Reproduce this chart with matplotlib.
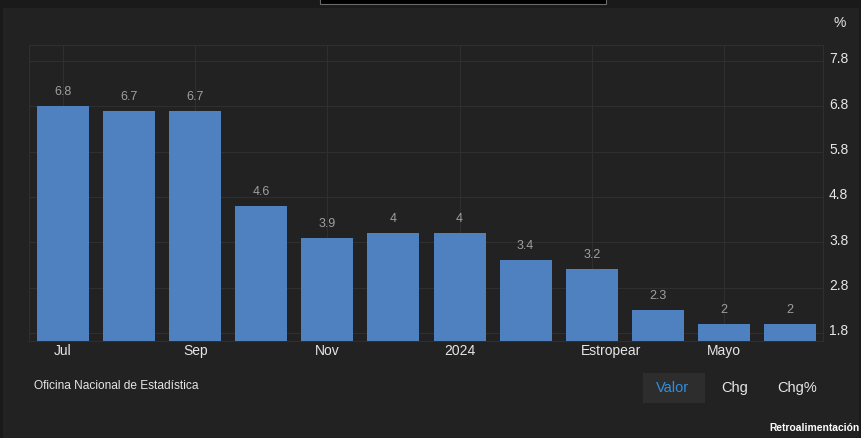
import matplotlib
matplotlib.use('Agg')
import matplotlib.pyplot as plt
import matplotlib.transforms as mtransforms
from matplotlib.patches import Rectangle

plt.rcParams['font.family'] = ['Liberation Sans', 'DejaVu Sans']

# data
months = ['Jul', 'Ago', 'Sep', 'Oct', 'Nov', 'Dic', 'Ene', 'Feb', 'Mar', 'Abr', 'May', 'Jun']
values = [6.8, 6.7, 6.7, 4.6, 3.9, 4, 4, 3.4, 3.2, 2.3, 2, 2]
tick_pos = [0, 2, 4, 6, 8, 10]
tick_labels = ['Jul', 'Sep', 'Nov', '2024', 'Estropear', 'Mayo']
y_ticks = [1.8, 2.8, 3.8, 4.8, 5.8, 6.8, 7.8]

W, H = 862, 438
fig = plt.figure(figsize=(W / 100, H / 100), dpi=100)
fig.patch.set_facecolor('#1a1a1a')

# panel background (behind the axes)
fig.patches.append(Rectangle((3 / W, 0), (859 - 3) / W, (H - 8) / H,
                             transform=fig.transFigure, facecolor='#222222',
                             edgecolor='none', zorder=-5))
# small dark box at top centre
fig.patches.append(Rectangle((320 / W, (H - 4) / H), (606 - 320) / W, 6 / H,
                             transform=fig.transFigure, facecolor='#000000',
                             edgecolor='#6a6a6a', linewidth=0.8, zorder=1))

ax = fig.add_axes([29 / W, (H - 341) / H, (823 - 29) / W, (341 - 45) / H])
ax.set_facecolor('#222222')

x = list(range(len(values)))
ax.bar(x, values, width=0.787, color='#4f81c1', zorder=3)

for xi, v in zip(x, values):
    ax.annotate('{:g}'.format(v), (xi, v), xytext=(0, 10), textcoords='offset points',
                ha='center', va='center', fontsize=9, color='#a0a0a0')

ax.set_xlim(-0.515, 11.5)
ax.set_ylim(1.62, 8.15)

ax.set_xticks(tick_pos)
ax.set_xticklabels(tick_labels)
ax.set_yticks(y_ticks)
ax.set_yticklabels(['{:.1f}'.format(t) for t in y_ticks])
ax.yaxis.tick_right()
ax.tick_params(axis='both', length=0, colors='#e6e6e6', labelsize=10)
ax.tick_params(axis='y', pad=4.3)
ax.tick_params(axis='x', pad=2)

# y labels sit a little above the gridline
up = mtransforms.ScaledTranslation(0, 3 / 100, fig.dpi_scale_trans)
for lab in ax.get_yticklabels():
    lab.set_transform(lab.get_transform() + up)
# "Estropear" label is shifted right in the original
right = mtransforms.ScaledTranslation(19 / 100, 0, fig.dpi_scale_trans)
lab = ax.get_xticklabels()[4]
lab.set_transform(lab.get_transform() + right)

ax.grid(True, color='#2f2f2f', linewidth=0.8, zorder=0)
for s in ax.spines.values():
    s.set_color('#2f2f2f')
    s.set_linewidth(0.8)

fig.text(840 / W, 1 - 23 / H, '%', color='#e6e6e6', fontsize=10, ha='center', va='center')
fig.text(34 / W, 1 - 386 / H, 'Oficina Nacional de Estadística', color='#e6e6e6',
         fontsize=8.6, ha='left', va='center')

# buttons
fig.patches.append(Rectangle((643 / W, 1 - 403 / H), 62 / W, 30 / H,
                             transform=fig.transFigure, facecolor='#2d2d2d',
                             edgecolor='none', zorder=1))
fig.text(673 / W, 1 - 388 / H, 'Valor', color='#2f8fe0', fontsize=10.5, ha='center', va='center')
fig.text(735 / W, 1 - 388 / H, 'Chg', color='#e6e6e6', fontsize=10.5, ha='center', va='center')
fig.text(797 / W, 1 - 388 / H, 'Chg%', color='#e6e6e6', fontsize=10.5, ha='center', va='center')

fig.text(860 / W, 1 - 428 / H, 'Retroalimentación', color='#ffffff', fontsize=7.4,
         fontweight='bold', ha='right', va='center')

fig.savefig('out.png', dpi=100, facecolor=fig.get_facecolor())
